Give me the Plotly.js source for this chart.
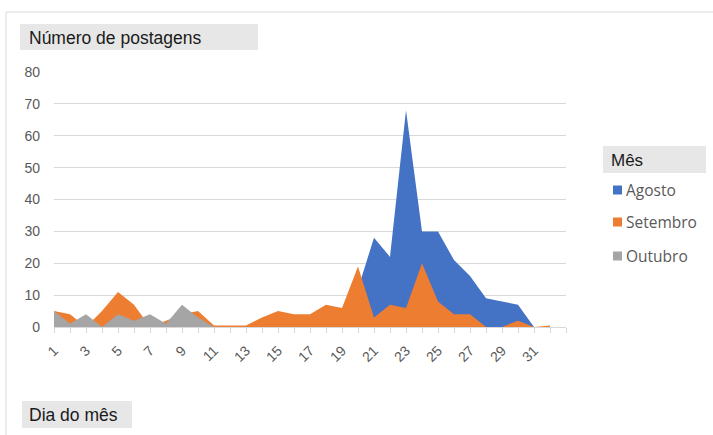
<!DOCTYPE html>
<html>
<head>
<meta charset="utf-8">
<script src="https://cdn.plot.ly/plotly-3.0.1.min.js"></script>
<style>
  html, body { margin: 0; padding: 0; background: #ffffff; }
  #chart { width: 713px; height: 435px; }
</style>
</head>
<body>
<div id="chart"></div>
<script>
// ---- data ----
const days = [1,2,3,4,5,6,7,8,9,10,11,12,13,14,15,16,17,18,19,20,21,22,23,24,25,26,27,28,29,30,31,32];
const agosto   = [0,0,0,0,0,0,0,0,0,0,0,0,0,0,0,0,0,0,0,12,28,22,68,30,30,21,16,9,8,7,0,0];
const setembro = [5,4,0,5,11,7,0,2,4,5,0.5,0.5,0.5,3,5,4,4,7,6,19,3,7,6,20,8,4,4,0,0,2,0,0.5];
const outubro  = [5,1,4,0,4,2,4,1,7,3,0,0,0,0,0,0,0,0,0,0,0,0,0,0,0,0,0,0,0,0,0,0];
const seriesNames = ['Agosto', 'Setembro', 'Outubro'];
const seriesColors = ['#4472C4', '#ED7D31', '#A5A5A5'];
const tickLabels = ['1','3','5','7','9','11','13','15','17','19','21','23','25','27','29','31'];
const yTitle = 'Número de postagens';
const xTitle = 'Dia do mês';
const legendTitle = 'Mês';

// ---- geometry helpers (pixel -> paper) ----
const L = 54, R = 147, T = 72, B = 108, W = 713, H = 435;
const PW = W - L - R, PH = H - T - B;
const px = x => (x - L) / PW;
const py = y => (H - B - y) / PH;

const values = [agosto, setembro, outubro];
const traces = values.map((v, i) => ({
  type: 'scatter',
  x: days,
  y: v,
  mode: 'none',
  fill: 'tozeroy',
  fillcolor: seriesColors[i],
  name: seriesNames[i],
  hoverinfo: 'skip',
  showlegend: false
}));

// tick marks at every day plus one trailing position; labels only on odd days
const tickVals = days.concat([days.length + 1]);
const tickText = tickVals.map(d => tickLabels.includes(String(d)) ? String(d) : '');

const boxFill = '#e7e7e7';
const titleFont = 'Liberation Sans, Arial, sans-serif';
const shapes = [
  // outer chart border
  {type:'rect', xref:'paper', yref:'paper', x0:px(6), x1:px(760), y0:py(12), y1:py(480),
   line:{color:'#d9d9d9', width:1}, fillcolor:'rgba(0,0,0,0)', layer:'below'},
  // title boxes
  {type:'rect', xref:'paper', yref:'paper', x0:px(20), x1:px(258), y0:py(24), y1:py(50),
   line:{width:0}, fillcolor:boxFill, layer:'below'},
  {type:'rect', xref:'paper', yref:'paper', x0:px(22), x1:px(132), y0:py(401), y1:py(428),
   line:{width:0}, fillcolor:boxFill, layer:'below'},
  {type:'rect', xref:'paper', yref:'paper', x0:px(603), x1:px(706), y0:py(146), y1:py(173),
   line:{width:0}, fillcolor:boxFill, layer:'below'}
];
const legendY = [190, 222, 256];
const annotations = [
  {xref:'paper', yref:'paper', x:px(27), y:py(37.5), xanchor:'left', yanchor:'middle', showarrow:false,
   text:yTitle, font:{family:titleFont, size:17.5, color:'#1a1a1a'}},
  {xref:'paper', yref:'paper', x:px(27), y:py(414.5), xanchor:'left', yanchor:'middle', showarrow:false,
   text:xTitle, font:{family:titleFont, size:17.5, color:'#1a1a1a'}},
  {xref:'paper', yref:'paper', x:px(609), y:py(160), xanchor:'left', yanchor:'middle', showarrow:false,
   text:legendTitle, font:{family:titleFont, size:17, color:'#1a1a1a'}}
];
seriesNames.forEach((n, i) => {
  const c = legendY[i];
  shapes.push({type:'rect', xref:'paper', yref:'paper', x0:px(613), x1:px(622), y0:py(c - 4.5), y1:py(c + 4.5),
    line:{width:0}, fillcolor:seriesColors[i]});
  annotations.push({xref:'paper', yref:'paper', x:px(624), y:py(c), xanchor:'left', yanchor:'middle', showarrow:false,
    text:n, font:{family:'Open Sans, Liberation Sans, sans-serif', size:15.5, color:'#595959'}});
});

const tickFont = {family:'Liberation Sans, Arial, sans-serif', size:14, color:'#595959'};
const layout = {
  width: W, height: H,
  margin: {l:L, r:R, t:T, b:B, pad:0},
  paper_bgcolor: '#ffffff',
  plot_bgcolor: '#ffffff',
  showlegend: false,
  xaxis: {
    range: [1, days.length + 1],
    tickvals: tickVals,
    ticktext: tickText,
    tickangle: -45,
    ticks: 'outside',
    ticklen: 5,
    tickcolor: '#d9d9d9',
    showline: true,
    linecolor: '#d9d9d9',
    linewidth: 1,
    showgrid: false,
    zeroline: false,
    ticklabelstandoff: 4,
    tickfont: tickFont,
    fixedrange: true
  },
  yaxis: {
    range: [0, 80],
    dtick: 10,
    tick0: 0,
    showgrid: true,
    gridcolor: '#d9d9d9',
    gridwidth: 1,
    zeroline: false,
    showline: false,
    ticks: '',
    ticklabelstandoff: 13,
    tickfont: tickFont,
    fixedrange: true
  },
  shapes: shapes,
  annotations: annotations
};

Plotly.newPlot('chart', traces, layout, {displayModeBar:false, staticPlot:true});
</script>
</body>
</html>
